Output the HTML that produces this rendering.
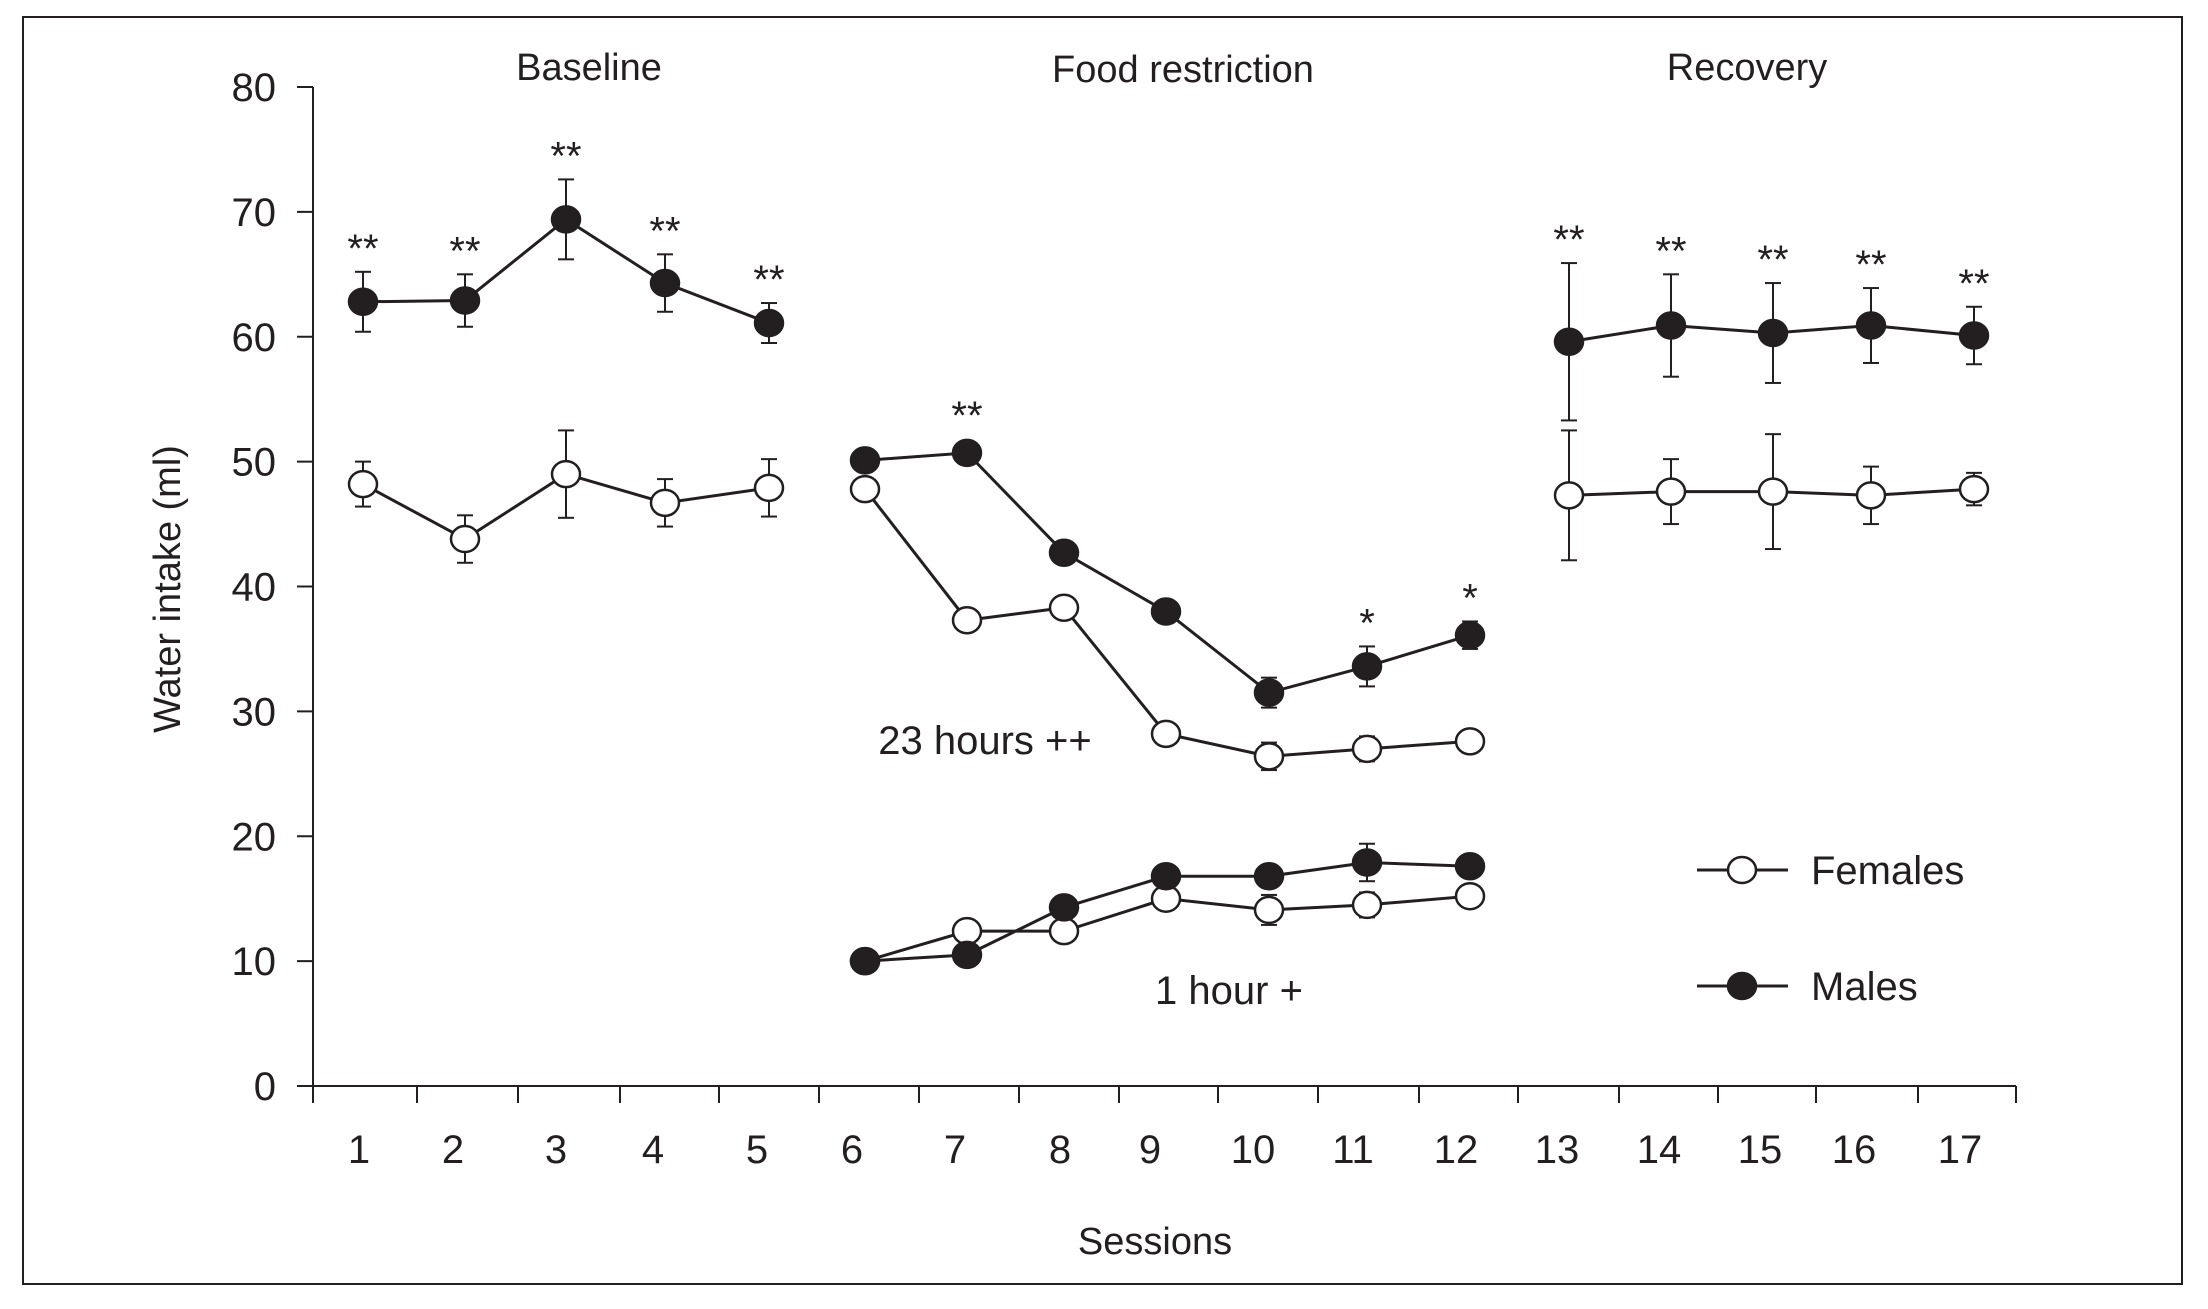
<!DOCTYPE html>
<html><head><meta charset="utf-8"><style>
body{margin:0;background:#fff}
svg text{font-family:"Liberation Sans Narrow","Liberation Sans",sans-serif;fill:#231f20}
</style></head><body>
<svg id="chart" width="2208" height="1304" viewBox="0 0 2208 1304" xmlns="http://www.w3.org/2000/svg">
<rect x="23" y="17" width="2159" height="1267" fill="none" stroke="#231f20" stroke-width="2"/>
<g id="g"></g>
</svg>
<script>
const sessions=[1,2,3,4,5,6,7,8,9,10,11,12,13,14,15,16,17];
const yTicks=[0,10,20,30,40,50,60,70,80];
const femBase=[48.2,43.8,49,46.7,47.9];
const femBaseErr=[1.8,1.9,3.5,1.9,2.3];
const maleBase=[62.8,62.9,69.4,64.3,61.1];
const maleBaseErr=[2.4,2.1,3.2,2.3,1.6];
const fem23=[47.8,37.3,38.3,28.2,26.4,27,27.6];
const fem23Err=[0,0.6,0,0,1.1,1,0.5];
const male23=[50.1,50.7,42.7,38,31.5,33.6,36.1];
const male23Err=[0,0,0,0,1.2,1.6,1.1];
const fem1=[10,12.4,12.4,15,14.1,14.5,15.2];
const fem1Err=[0,0,0,0,1.2,1.0,0];
const male1=[10,10.5,14.3,16.8,16.8,17.9,17.6];
const male1Err=[0,0,0,0,0,1.5,0];
const femRec=[47.3,47.6,47.6,47.3,47.8];
const femRecErr=[5.2,2.6,4.6,2.3,1.3];
const maleRec=[59.6,60.9,60.3,60.9,60.1];
const maleRecErr=[6.3,4.1,4.0,3.0,2.3];
const stars=['**','**','**','**','**','','**','','','','*','*','**','**','**','**','**'];
const pointX=[363,465,566,665,769,865,967,1064,1166,1269,1367,1470,1569,1671,1773,1871,1974];
const labelX=[359,453,556,653,757,852,955,1060,1150,1253,1353,1456,1557,1659,1760,1854,1960];
const tickX=[313,417,518,620,719,819,919,1019,1119,1218,1318,1419,1518,1619,1718,1816,1918,2016];
const y0=1086,y80=87;
const Y=v=>y0+(y80-y0)*v/80;
const X=s=>pointX[s-1];
const g=document.getElementById('g');
const NS='http://www.w3.org/2000/svg';
function mk(t,a,txt){const e=document.createElementNS(NS,t);for(const k in a)e.setAttribute(k,a[k]);if(txt!==undefined)e.textContent=txt;g.appendChild(e);return e;}
// axes
let e=mk('line',{x1:313,y1:y80,x2:313,y2:y0,stroke:'#231f20','stroke-width':2});


e=mk('line',{x1:313,y1:y0,x2:2016,y2:y0,stroke:'#231f20','stroke-width':2});


yTicks.forEach(v=>{
 mk('line',{x1:297,y1:Y(v),x2:313,y2:Y(v),stroke:'#231f20','stroke-width':2});
 const t=mk('text',{x:276,y:Y(v)+14,'font-size':40,'text-anchor':'end'},v);
 
 
});
tickX.forEach(x=>mk('line',{x1:x,y1:y0,x2:x,y2:y0+17,stroke:'#231f20','stroke-width':2}));
sessions.forEach((s,i)=>{
 const t=mk('text',{x:labelX[i],y:1163,'font-size':40,'text-anchor':'middle'},s);
 
 
});
function series(ss,vals,errs,filled,name){
 const pts=ss.map((s,i)=>X(s)+','+Y(vals[i])).join(' ');
 const l=mk('polyline',{points:pts,fill:'none',stroke:'#231f20','stroke-width':3});
 
 
 ss.forEach((s,i)=>{
  const x=X(s);
  if(errs[i]>0){
   mk('line',{x1:x,y1:Y(vals[i]+errs[i]),x2:x,y2:Y(vals[i]-errs[i]),stroke:'#231f20','stroke-width':2});
   mk('line',{x1:x-8,y1:Y(vals[i]+errs[i]),x2:x+8,y2:Y(vals[i]+errs[i]),stroke:'#231f20','stroke-width':2});
   mk('line',{x1:x-8,y1:Y(vals[i]-errs[i]),x2:x+8,y2:Y(vals[i]-errs[i]),stroke:'#231f20','stroke-width':2});
  }
  const c=mk('ellipse',{cx:x,cy:Y(vals[i]),rx:14,ry:13,fill:filled?'#231f20':'#fff',stroke:'#231f20','stroke-width':2.5});
  
  
 });
}
const sB=[1,2,3,4,5],sF=[6,7,8,9,10,11,12],sR=[13,14,15,16,17];
series(sF,fem1,fem1Err,false,'females-1h');
series(sF,male1,male1Err,true,'males-1h');
series(sB,femBase,femBaseErr,false,'females-baseline');
series(sF,fem23,fem23Err,false,'females-23h');
series(sR,femRec,femRecErr,false,'females-recovery');
series(sB,maleBase,maleBaseErr,true,'males-baseline');
series(sF,male23,male23Err,true,'males-23h');
series(sR,maleRec,maleRecErr,true,'males-recovery');
// stars
const maleAll=maleBase.concat(male23,maleRec),maleErrAll=maleBaseErr.concat(male23Err,maleRecErr);
sessions.forEach((s,i)=>{
 if(!stars[i])return;
 const t=mk('text',{x:X(s),y:Y(maleAll[i]+maleErrAll[i])-10+ (maleErrAll[i]?0:-14),'font-size':40,'text-anchor':'middle'},stars[i]);
 
 
});
</script>
<svg width="2208" height="1304" style="position:absolute;left:0;top:0" xmlns="http://www.w3.org/2000/svg">
<text x="589" y="80" font-size="38" text-anchor="middle">Baseline</text>
<text x="1183" y="82" font-size="38" text-anchor="middle">Food restriction</text>
<text x="1747" y="80" font-size="38" text-anchor="middle">Recovery</text>
<text x="985" y="754" font-size="40" text-anchor="middle">23 hours ++</text>
<text x="1229" y="1004" font-size="40" text-anchor="middle">1 hour +</text>
<text transform="translate(180,589) rotate(-90)" font-size="38" text-anchor="middle">Water intake (ml)</text>
<text x="1155" y="1254" font-size="38" text-anchor="middle">Sessions</text>
<g>
<line x1="1697" y1="870" x2="1788" y2="870" stroke="#231f20" stroke-width="3"/>
<ellipse cx="1742" cy="870" rx="14" ry="13" fill="#fff" stroke="#231f20" stroke-width="2.5"/>
<text x="1811" y="884" font-size="40">Females</text></g>
<g>
<line x1="1697" y1="986" x2="1788" y2="986" stroke="#231f20" stroke-width="3"/>
<ellipse cx="1742" cy="986" rx="14" ry="13" fill="#231f20" stroke="#231f20" stroke-width="2.5"/>
<text x="1811" y="1000" font-size="40">Males</text></g>
</svg>
</body></html>
